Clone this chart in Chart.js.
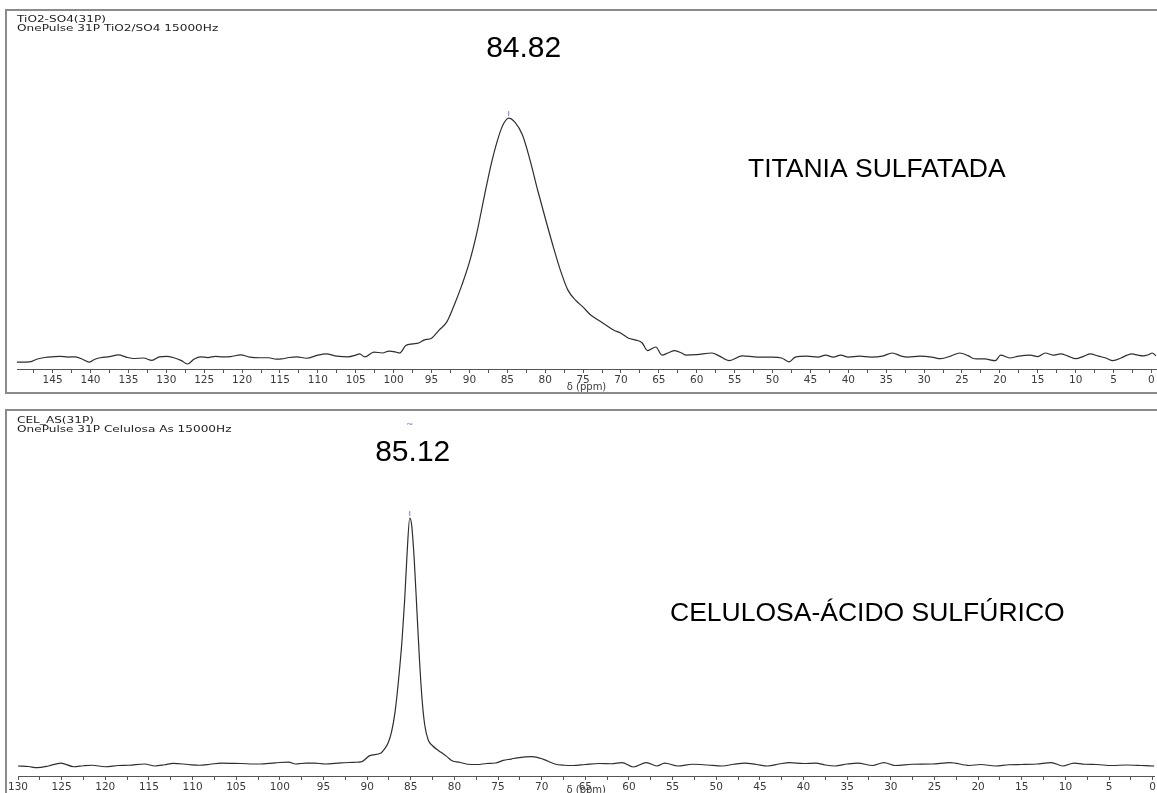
<!DOCTYPE html>
<html>
<head>
<meta charset="utf-8">
<title>31P NMR</title>
<script src="https://cdn.jsdelivr.net/npm/chart.js@4/dist/chart.umd.min.js"></script>
<style>
  body { margin: 0; background: #fff; width: 1157px; height: 793px; overflow: hidden; position: relative; }
  canvas { position: absolute; left: 0; }
  #specTop { top: 0; }
  #specBottom { top: 400px; }
  .frame { position: absolute; border: 2px solid #8a8a8a; border-right: none; pointer-events: none; }
  #frameTop { left: 5px; top: 9px; width: 1160px; height: 381px; }
  #frameBottom { left: 5px; top: 409px; width: 1160px; height: 420px; }
</style>
</head>
<body>
<canvas id="specTop" width="1157" height="393"></canvas>
<canvas id="specBottom" width="1157" height="393"></canvas>
<div class="frame" id="frameTop"></div>
<div class="frame" id="frameBottom"></div>
<script>
// TiO2/SO4 spectrum: chemical shift (ppm) and relative intensity
var topPpm = [
  149.7, 148, 147, 146, 145, 144, 143, 142, 141, 140.2,
  139.5, 138.7, 137.5, 136.3, 135.3, 134.3, 133, 131.9, 130.9, 130,
  129, 128, 127.2, 126.3, 125.5, 124.5, 123.5, 122.6, 121.5, 120.2,
  119, 117.7, 116.5, 115.5, 114.8, 113.8, 112.8, 111.5, 110, 108.9,
  107.5, 106, 105, 104.5, 103.8, 102.6, 101.5, 100.6, 99.6, 99.2,
  98.4, 97.5, 96.7, 96, 95, 94, 93, 92, 91, 90,
  89, 88, 87, 86, 85.5, 84.82, 84, 83, 82, 81,
  80, 79, 78, 77, 76, 75, 74, 73, 72, 71,
  70, 69, 68, 67.2, 66.5, 65.4, 64.6, 63.8, 62.9, 62,
  61.4, 60, 58, 57, 55.7, 54, 52, 50, 48.8, 47.8,
  47, 45.5, 44, 43, 42, 41, 40, 38.5, 37, 35.5,
  34.2, 33, 32.2, 30.5, 29, 27.8, 26.5, 25.3, 24.2, 23.4,
  22, 20.6, 19.9, 18.7, 17.5, 16, 15, 14, 13, 12,
  11, 10, 8.9, 8.1, 7, 6, 5.1, 4, 3.2, 2.6,
  1.8, 1.1, 0.4, -0.1, -0.6
];
var topIntensity = [
  -2.1, -2.0, -0.8, -0.2, 0.1, 0.3, 0.0, 0.1, -1.0, -2.1,
  -1.0, -0.3, 0.2, 0.9, 0.0, -0.6, -0.4, -1.4, 0.1, 0.3,
  -0.3, -1.5, -2.9, -0.8, 0.1, -0.2, 0.3, 0.1, 0.2, 0.9,
  0.0, -0.3, -0.3, -0.9, -0.8, -0.2, 0.1, -0.5, 0.8, 1.3,
  0.4, 0.1, 0.8, 1.3, 0.1, 2.1, 1.7, 2.5, 2.0, 1.7,
  4.8, 5.5, 5.9, 7.1, 7.9, 11.3, 14.6, 21.8, 30.1, 39.7,
  52.3, 67.8, 82.4, 93.7, 97.6, 100, 98.3, 92.9, 82.4, 69.9,
  58.2, 46.9, 36.4, 28.0, 23.8, 20.9, 17.6, 15.5, 13.4, 11.3,
  10.0, 7.9, 7.1, 5.9, 2.7, 4.2, 0.8, 1.7, 2.7, 1.7,
  0.8, 1.0, 1.7, 0.4, -1.5, 0.5, 0.0, 0.0, -0.4, -2.0,
  0.0, 0.4, 0.0, 0.8, 0.0, 0.8, 0.0, 0.4, 0.0, 0.4,
  1.7, 0.4, 0.0, 0.4, 0.0, -0.7, 0.4, 1.7, 0.6, -0.7,
  -0.8, -1.5, 0.8, -0.4, 0.4, 0.8, 0.2, 1.7, 0.8, 1.3,
  0.4, -0.7, 0.4, 1.3, 0.4, -0.4, -1.5, -0.4, 0.8, 1.3,
  0.8, 0.5, 1.0, 1.7, 0.5
];

// celulosa / ácido sulfúrico spectrum
var bottomPpm = [
  130, 128.8, 127.8, 126.5, 125.1, 123.6, 122.5, 121.5, 120, 118.5,
  117.3, 115.5, 114.3, 113.2, 112.2, 110.5, 109.2, 108, 106.7, 104.5,
  102.4, 100.5, 99, 98.2, 97, 96, 94.8, 93, 91.5, 90.6,
  89.7, 88.4, 88, 87.6, 87.2, 86.8, 86.4, 86.0, 85.7, 85.4,
  85.12, 84.9, 84.6, 84.3, 84.0, 83.7, 83.4, 83.0, 82.5, 81.8,
  81.3, 80.8, 80.2, 79.5, 78.5, 77.4, 76.3, 75.3, 74.4, 73.5,
  72.8, 71.1, 69.8, 68.5, 67.4, 66.4, 65, 63.4, 62, 60.8,
  59.5, 58, 56.8, 55.9, 54.4, 52.7, 51, 49.3, 48, 46.7,
  45.4, 44.1, 42.8, 41.6, 40, 38.6, 37.5, 36.4, 35, 33.8,
  32.1, 30.8, 29.5, 27.5, 25.3, 23.2, 21, 19.7, 18, 16.5,
  15, 13.3, 11.6, 10.3, 9, 7.8, 6.4, 4.7, 3, 1.3,
  0, -0.2
];
var bottomIntensity = [
  -0.4, -0.6, -1.1, -0.4, 0.8, -0.7, -0.3, -0.1, -0.7, -0.2,
  -0.1, 0.4, -0.4, 0.1, 0.7, 0.2, -0.1, 0.3, 0.8, 0.6,
  0.4, 0.9, 1.2, 0.4, 0.8, 0.8, 0.4, 0.9, 1.1, 1.4,
  3.8, 4.9, 6.5, 8.9, 13.4, 21.5, 34.4, 50.6, 66.8, 87,
  100, 97.2, 83, 62.8, 42.5, 26.3, 16.2, 10.1, 7.8, 5.8,
  4.6, 3.2, 1.6, 1.2, 0.3, 0.2, 0.6, 0.8, 1.9, 2.4,
  2.9, 3.4, 2.3, 0.4, -0.1, -0.2, 0.2, 0.6, 0.5, 1.0,
  -0.8, 1.0, -0.4, 0.8, -0.4, 0.3, 0.0, -0.4, 0.3, 0.8,
  0.2, -0.4, 0.4, 1.0, 0.6, 0.8, 0.0, -0.4, 0.4, 0.8,
  -0.2, 1.0, -0.2, 0.3, 0.4, 1.0, -0.2, 0.2, -0.4, 0.1,
  0.2, 0.4, 1.0, -0.4, 0.8, 0.3, 0.2, -0.2, 0.0, -0.2,
  -0.4, -0.3
];

var peakShifts = [84.82, 85.12];
var sampleNames = ['TITANIA SULFATADA', 'CELULOSA-ÁCIDO SULFÚRICO'];
var headers = [
  ['TiO2-SO4(31P)', 'OnePulse 31P TiO2/SO4 15000Hz'],
  ['CEL_AS(31P)', 'OnePulse 31P Celulosa As 15000Hz']
];

// header lines, peak pick and its shift, sample name
var spectrumLabels = {
  id: 'spectrumLabels',
  afterDraw: function (chart, args, o) {
    var ctx = chart.ctx;
    var xs = chart.scales.x, ys = chart.scales.y;
    ctx.save();
    ctx.fillStyle = '#222';
    ctx.font = '11px "DejaVu Sans"';
    ctx.textAlign = 'left';
    ctx.textBaseline = 'middle';
    o.header.forEach(function (line, i) {
      ctx.save();
      ctx.translate(17, o.headerY + i * 9);
      ctx.scale(1.1, 0.85);
      ctx.fillText(line, 0, 0);
      ctx.restore();
    });

    var px = xs.getPixelForValue(o.peak);
    var py = ys.getPixelForValue(o.peakHeight);
    ctx.strokeStyle = '#7b7bd6';
    ctx.lineWidth = 1;
    ctx.beginPath();
    ctx.moveTo(px, py - 7);
    ctx.lineTo(px, py - 2);
    ctx.stroke();
    if (o.tilde) {
      ctx.fillStyle = '#7b7bd6';
      ctx.font = '9px "DejaVu Sans"';
      ctx.textAlign = 'center';
      ctx.fillText('~', px, o.tildeY);
    }

    ctx.fillStyle = '#000';
    ctx.font = '30px "Liberation Sans"';
    ctx.textAlign = 'center';
    ctx.fillText(o.peak.toFixed(2), px + o.labelDx, o.labelY);

    ctx.font = '26.5px "Liberation Sans"';
    ctx.textAlign = 'left';
    ctx.fillText(o.name, o.nameX, o.nameY);
    ctx.restore();
  }
};

function spectrumChart(id, ppm, intensity, s) {
  var points = ppm.map(function (p, i) { return { x: p, y: intensity[i] }; });
  return new Chart(document.getElementById(id), {
    type: 'line',
    data: {
      datasets: [{
        data: points,
        borderColor: '#2e2e2e',
        borderWidth: 1.2,
        pointRadius: 0,
        cubicInterpolationMode: 'monotone',
        fill: false
      }]
    },
    options: {
      responsive: false,
      animation: false,
      devicePixelRatio: 1,
      layout: { padding: { left: s.left, right: 1, top: 12, bottom: 0 } },
      plugins: {
        legend: { display: false },
        tooltip: { enabled: false },
        spectrumLabels: s.labels
      },
      scales: {
        x: {
          type: 'linear',
          reverse: true,
          min: s.xMin,
          max: s.xMax,
          afterFit: function (scale) { scale.height = s.axisHeight; },
          border: { display: true, color: '#555', width: 1 },
          grid: { drawOnChartArea: false, tickLength: 4, color: '#555' },
          ticks: {
            stepSize: 2.5,
            autoSkip: false,
            maxRotation: 0,
            includeBounds: false,
            padding: 1,
            color: '#3a3a3a',
            font: { family: 'DejaVu Sans', size: 10.5 },
            callback: function (v) { return v % 5 === 0 ? String(v) : ''; }
          },
          title: {
            display: true,
            text: 'δ (ppm)',
            color: '#3a3a3a',
            font: { family: 'DejaVu Sans', size: 10 },
            padding: { top: 0, bottom: s.titlePad }
          }
        },
        y: { display: false, min: s.yMin, max: s.yMax }
      }
    },
    plugins: [spectrumLabels]
  });
}

spectrumChart('specTop', topPpm, topIntensity, {
  left: 17, xMin: -0.6, xMax: 149.7, yMin: -5.0, yMax: 144.4,
  axisHeight: 24, titlePad: 0,
  labels: {
    header: headers[0], headerY: 19.5,
    peak: peakShifts[0], peakHeight: Math.max.apply(null, topIntensity),
    labelDx: 15, labelY: 49,
    name: sampleNames[0], nameX: 748, nameY: 170
  }
});

spectrumChart('specBottom', bottomPpm, bottomIntensity, {
  left: 18, xMin: -0.2, xMax: 130, yMin: -4.45, yMax: 142.9,
  axisHeight: 17, titlePad: -3,
  labels: {
    header: headers[1], headerY: 20.5,
    peak: peakShifts[1], peakHeight: Math.max.apply(null, bottomIntensity),
    labelDx: 3, labelY: 53, tilde: true, tildeY: 25,
    name: sampleNames[1], nameX: 670, nameY: 214
  }
});
</script>
</body>
</html>
